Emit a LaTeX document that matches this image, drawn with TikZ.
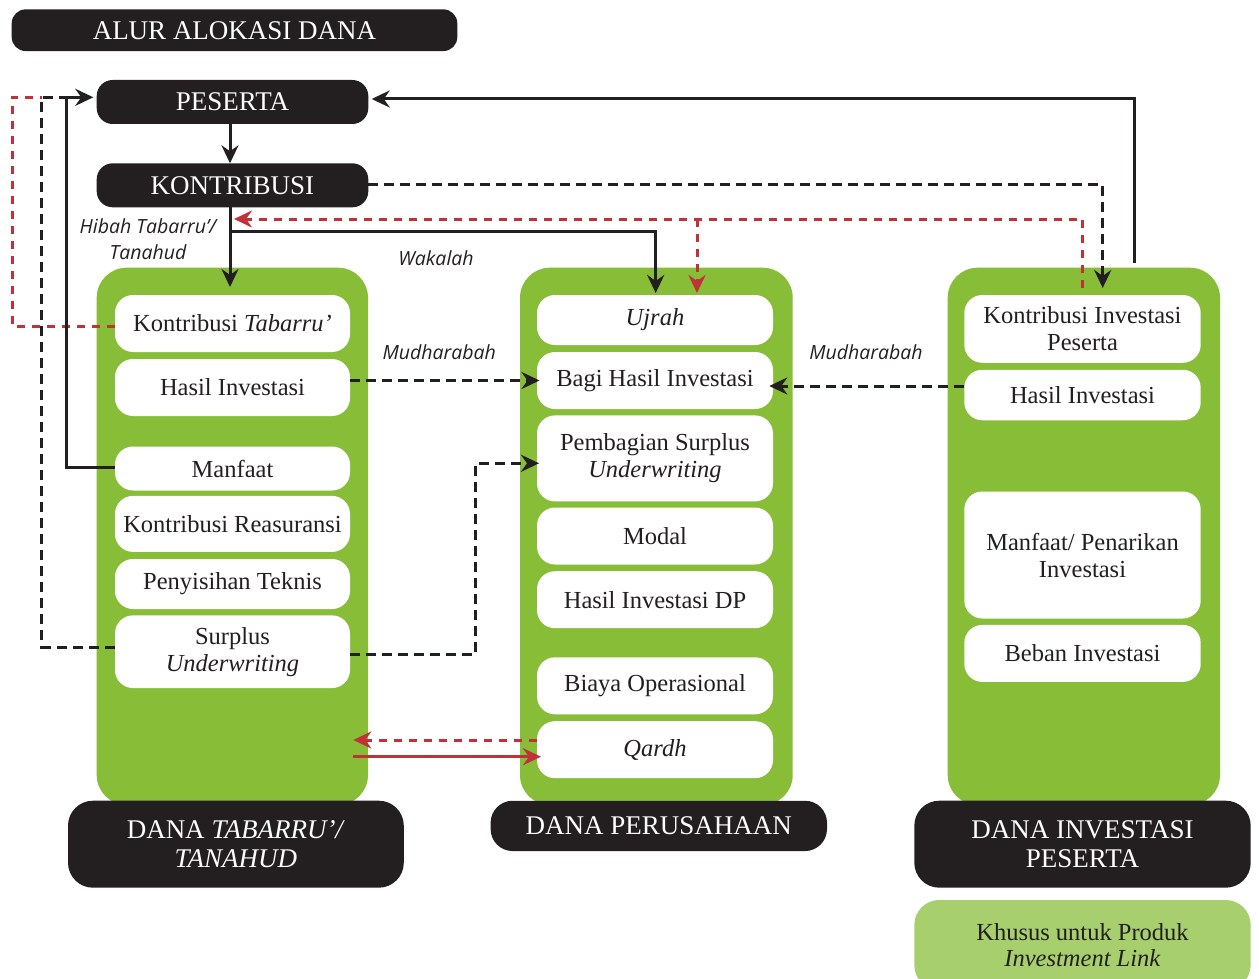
\documentclass[tikz,border=0pt]{standalone}
\usepackage{fontspec}
\setmainfont{Liberation Serif}
\newfontfamily\connfont{Open Sans}
\usetikzlibrary{arrows.meta,calc}
\definecolor{leaf}{HTML}{87BD37}
\definecolor{ink}{HTML}{231F20}
\definecolor{flow}{HTML}{C1313A}
\definecolor{pale}{HTML}{A7CF6E}

\begin{document}
\begin{tikzpicture}[x=1pt,y=-1pt,
  every node/.style={outer sep=0pt},
  fundcol/.style={fill=leaf, rounded corners=30pt, inner sep=0pt},
  item/.style={fill=white, rounded corners=18pt, inner sep=0pt, align=center,
    text=ink, font=\fontsize{24.5}{27}\selectfont},
  head/.style={fill=ink, text=white, inner sep=0pt, align=center,
    font=\fontsize{27}{28.3}\selectfont},
  connlabel/.style={text=ink, inner sep=0pt, align=center,
    font=\connfont\itshape\fontsize{19.5}{25.3}\selectfont},
  solidln/.style={draw=ink, line width=3pt},
  blkdash/.style={draw=ink, line width=3pt, dash pattern=on 10pt off 6pt},
  reddash/.style={draw=flow, line width=3pt, dash pattern=on 8pt off 7pt},
  redln/.style={draw=flow, line width=3pt},
  arr/.style={-{Stealth[length=18pt,width=17pt,inset=6pt]}},
]
\useasboundingbox (0,0) rectangle (1259,979);
\fill[white] (0,0) rectangle (1259,979);

% fund columns
\node[fundcol, minimum width=271.3pt, minimum height=537.3pt] (g1) at (232.35,536.35) {};
\node[fundcol, minimum width=272.7pt, minimum height=537.3pt] (g2) at (656.35,536.35) {};
\node[fundcol, minimum width=272.3pt, minimum height=537.3pt] (g3) at (1083.85,536.35) {};

% header boxes
\node[head, rounded corners=14pt, minimum width=445.6pt, minimum height=41.7pt] (title) at (234.5,30.2) {ALUR ALOKASI DANA};
\node[head, rounded corners=16pt, minimum width=271.6pt, minimum height=44pt] (peserta) at (232.5,102) {PESERTA};
\node[head, rounded corners=16pt, minimum width=271.6pt, minimum height=44pt] (kontribusi) at (232.5,185.3) {KONTRIBUSI};

% Dana Tabarru' items
\begin{scope}[every node/.append style={item, minimum width=235pt}]
\node[minimum height=57pt] (k1) at (232.5,323.5) {Kontribusi \textit{Tabarru’}};
\node[minimum height=57pt] (h1) at (232.5,387.5) {Hasil Investasi};
\node[minimum height=44pt] (m1) at (232.5,468.5) {Manfaat};
\node[minimum height=56pt] (r1) at (232.5,523.9) {Kontribusi Reasuransi};
\node[minimum height=50pt] (p1) at (232.5,584) {Penyisihan Teknis};
\node[minimum height=72.7pt] (s1) at (232.5,651.7) {Surplus\\\textit{Underwriting}};
\end{scope}

% Dana Perusahaan items
\begin{scope}[every node/.append style={item, minimum width=236pt}]
\node[minimum height=50pt] (u2) at (655,320) {\textit{Ujrah}};
\node[minimum height=57pt] (b2) at (655,380.5) {Bagi Hasil Investasi};
\node[minimum height=86pt] (ps2) at (655,458.4) {Pembagian Surplus\\\textit{Underwriting}};
\node[minimum height=57pt] (mo2) at (655,536) {Modal};
\node[minimum height=57pt] (hd2) at (655,599.7) {Hasil Investasi DP};
\node[minimum height=57pt] (bo2) at (655,685.8) {Biaya Operasional};
\node[minimum height=57pt] (q2) at (655,749.7) {\textit{Qardh}};
\end{scope}

% Dana Investasi Peserta items
\begin{scope}[every node/.append style={item, minimum width=236.4pt}]
\node[minimum height=67.8pt] (ki3) at (1082.5,328.9) {Kontribusi Investasi\\Peserta};
\node[minimum height=50.5pt] (hi3) at (1082.5,395) {Hasil Investasi};
\node[minimum height=127pt] (mp3) at (1082.5,555) {Manfaat/ Penarikan\\Investasi};
\node[minimum height=57pt] (be3) at (1082.5,653.4) {Beban Investasi};
\end{scope}

% fund labels
\node[head, rounded corners=25pt, minimum width=335.8pt, minimum height=87pt] (lab1) at (235.9,844.2) {DANA \textit{TABARRU’/}\\\textit{TANAHUD}};
\node[head, rounded corners=22pt, minimum width=336.4pt, minimum height=50.3pt] (lab2) at (658.8,825.9) {DANA PERUSAHAAN};
\node[head, rounded corners=25pt, minimum width=336.4pt, minimum height=87pt] (lab3) at (1082.5,844.2) {DANA INVESTASI\\PESERTA};
\node[fill=pale, rounded corners=25pt, inner sep=0pt, align=center, text=ink,
  font=\fontsize{24.5}{26.6}\selectfont, minimum width=336.4pt, minimum height=90pt] (note) at (1082.5,945) {Khusus untuk Produk\\\textit{Investment Link}};

% junction points
\coordinate (wk) at (230,231.7);
\coordinate (hb) at (234,219);
\coordinate (rb) at (697,219);
\coordinate (kd) at (1102.7,184.3);
\coordinate (c3top) at (1134,263);
\coordinate (js) at (66,97.3);
\coordinate (jb) at (41.7,97.3);
\coordinate (jr) at (12.3,97.3);
\coordinate (qa) at (353.3,740);
\coordinate (qb) at (353,756.7);
\coordinate (r3) at ([yshift=9pt]hi3.west);

% contribution flow
\draw[solidln,arr] (peserta.south -| wk) -- (kontribusi.north -| wk);
\draw[solidln,arr,shorten >=8pt] (kontribusi.south -| wk) -- (k1.north -| wk);
\draw[solidln,arr,shorten >=2pt] (wk) -| ([xshift=0.7pt]u2.north);
\draw[reddash,arr,shorten <=7pt] (ki3.north) |- (hb);
\draw[reddash,arr,shorten >=2pt] (rb) -- (rb |- u2.north);
\draw[blkdash,arr,shorten >=7pt] ([yshift=1pt]kontribusi.east) -| (kd |- ki3.north);
\draw[solidln,arr,shorten >=3.4pt] (c3top) |- ([yshift=3pt]peserta.east);

% returns to the participant
\draw[reddash] ([yshift=-3pt]k1.west) -| (jr) -- (jb);
\draw[blkdash] ([yshift=4.7pt]s1.west) -| (jb) -- (js);
\draw[solidln,arr,shorten >=3.4pt] ([yshift=1pt]m1.west) -| (js) -- (js -| peserta.west);

% mudharabah and surplus sharing
\draw[blkdash,arr,shorten >=-2.5pt] (h1.east |- b2.west) -- (b2.west);
\draw[blkdash,arr,shorten >=-2pt] ([yshift=-2.6pt]s1.east) -- ++(125.7,0) |- ([yshift=-4.9pt]ps2.west);
\draw[blkdash,arr,shorten >=-3.7pt] (r3) -- (r3 -| b2.east);

% qardh
\draw[reddash,arr] ([yshift=9.7pt]q2.west) -- (qa);
\draw[redln,arr,shorten >=-4pt] (qb) -- (qb -| q2.west);

% connector labels
\node[connlabel] (hibah) at (148,239.3) {Hibah Tabarru’/\\Tanahud};
\node[connlabel] (wakalah) at (436,258.3) {Wakalah};
\node[connlabel] (mudL) at (439.2,351.7) {Mudharabah};
\node[connlabel] (mudR) at (866,352) {Mudharabah};
\end{tikzpicture}
\end{document}
